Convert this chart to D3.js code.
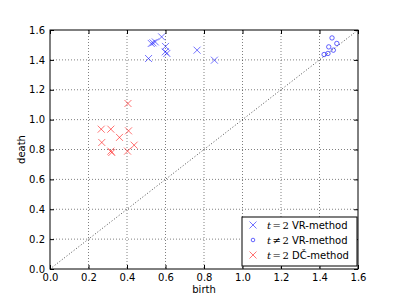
<!DOCTYPE html>
<html>
<head>
    <meta charset="utf-8">
    <script src="https://d3js.org/d3.v7.min.js"></script>
    <style>
        body { margin: 0; background: #fff; }
        text { font-family: "DejaVu Sans", sans-serif; }
    </style>
</head>
<body>
    <script>
        // t = 2 VR-method (crosses)
        var vrBirth = [0.512, 0.526, 0.535, 0.547, 0.58, 0.60, 0.599, 0.607, 0.764, 0.854];
        var vrDeath = [1.409, 1.51, 1.514, 1.52, 1.554, 1.49, 1.454, 1.443, 1.465, 1.398];

        // t != 2 VR-method (circles)
        var vrOtherBirth = [1.424, 1.444, 1.448, 1.465, 1.472, 1.49];
        var vrOtherDeath = [1.436, 1.443, 1.487, 1.547, 1.465, 1.51];

        // t = 2 DC-method (crosses)
        var dcBirth = [0.405, 0.266, 0.316, 0.408, 0.361, 0.269, 0.316, 0.321, 0.403, 0.437];
        var dcDeath = [1.108, 0.936, 0.936, 0.925, 0.881, 0.847, 0.789, 0.78, 0.789, 0.829];

        var ticks = [0.0, 0.2, 0.4, 0.6, 0.8, 1.0, 1.2, 1.4, 1.6];

        var W = 399, H = 299;
        var mLeft = 50, mRight = 358, mTop = 30, mBottom = 269;

        var svg = d3.select("body").append("svg")
            .attr("width", W)
            .attr("height", H);

        var x = d3.scaleLinear().domain([0, 1.6]).range([mLeft, mRight]);
        var y = d3.scaleLinear().domain([0, 1.6]).range([mBottom, mTop]);

        // grid
        var grid = svg.append("g");
        grid.selectAll("line.gx")
            .data(ticks.slice(1, -1))
            .enter().append("line")
            .attr("class", "gx")
            .attr("x1", d => x(d)).attr("x2", d => x(d))
            .attr("y1", mTop).attr("y2", mBottom)
            .style("stroke", "#000").style("stroke-width", 0.5)
            .style("stroke-dasharray", "1,2");
        grid.selectAll("line.gy")
            .data(ticks.slice(1, -1))
            .enter().append("line")
            .attr("class", "gy")
            .attr("y1", d => y(d)).attr("y2", d => y(d))
            .attr("x1", mLeft).attr("x2", mRight)
            .style("stroke", "#000").style("stroke-width", 0.5)
            .style("stroke-dasharray", "1,2");

        // diagonal
        svg.append("line")
            .attr("x1", x(0)).attr("y1", y(0))
            .attr("x2", x(1.6)).attr("y2", y(1.6))
            .style("stroke", "#000").style("stroke-width", 0.7)
            .style("stroke-dasharray", "1,2");

        function crosses(bx, dy, color) {
            var g = svg.append("g");
            var pts = bx.map((b, i) => [b, dy[i]]);
            var s = 3.5;
            g.selectAll("path")
                .data(pts)
                .enter().append("path")
                .attr("d", d => {
                    var px = x(d[0]), py = y(d[1]);
                    return "M" + (px - s) + "," + (py - s) + "L" + (px + s) + "," + (py + s) +
                        "M" + (px - s) + "," + (py + s) + "L" + (px + s) + "," + (py - s);
                })
                .style("stroke", color)
                .style("stroke-opacity", 0.55)
                .style("stroke-width", 1)
                .style("fill", "none");
        }

        crosses(vrBirth, vrDeath, "#0000ff");
        crosses(dcBirth, dcDeath, "#ff0000");

        svg.append("g").selectAll("circle")
            .data(vrOtherBirth.map((b, i) => [b, vrOtherDeath[i]]))
            .enter().append("circle")
            .attr("cx", d => x(d[0]))
            .attr("cy", d => y(d[1]))
            .attr("r", 2.2)
            .style("fill", "none")
            .style("stroke", "#0000ff")
            .style("stroke-opacity", 0.6)
            .style("stroke-width", 1);

        // axes frame
        svg.append("rect")
            .attr("x", mLeft).attr("y", mTop)
            .attr("width", mRight - mLeft).attr("height", mBottom - mTop)
            .style("fill", "none").style("stroke", "#000").style("stroke-width", 1);

        // ticks (inside, matplotlib style)
        var fmt = d3.format(".1f");
        var xAxis = d3.axisBottom(x).tickValues(ticks).tickFormat(fmt).tickSizeInner(-4).tickSizeOuter(0).tickPadding(5);
        var yAxis = d3.axisLeft(y).tickValues(ticks).tickFormat(fmt).tickSizeInner(-4).tickSizeOuter(0).tickPadding(5);
        var xa = svg.append("g").attr("transform", "translate(0," + mBottom + ")").call(xAxis);
        var ya = svg.append("g").attr("transform", "translate(" + mLeft + ",0)").call(yAxis);
        [xa, ya].forEach(a => {
            a.select(".domain").remove();
            a.selectAll("text").style("font-size", "10px").style("fill", "#000")
                .style("font-family", "DejaVu Sans, sans-serif");
            a.selectAll("line").style("stroke", "#000");
        });

        // top / right ticks
        svg.append("g").attr("transform", "translate(0," + mTop + ")")
            .call(d3.axisTop(x).tickValues(ticks).tickFormat("").tickSizeInner(-4).tickSizeOuter(0))
            .call(g => g.select(".domain").remove());
        svg.append("g").attr("transform", "translate(" + mRight + ",0)")
            .call(d3.axisRight(y).tickValues(ticks).tickFormat("").tickSizeInner(-4).tickSizeOuter(0))
            .call(g => g.select(".domain").remove());

        // axis labels
        svg.append("text")
            .attr("x", (mLeft + mRight) / 2).attr("y", 293)
            .attr("text-anchor", "middle")
            .style("font-size", "10px")
            .text("birth");
        svg.append("text")
            .attr("transform", "translate(25," + ((mTop + mBottom) / 2) + ") rotate(-90)")
            .attr("text-anchor", "middle")
            .style("font-size", "10px")
            .text("death");

        // legend
        var legend = svg.append("g");
        legend.append("rect")
            .attr("x", 242).attr("y", 217)
            .attr("width", 115).attr("height", 49)
            .style("fill", "#fff").style("stroke", "#000").style("stroke-width", 1);

        var items = [
            {kind: "x", color: "#0000ff", rel: "=", label: "VR-method"},
            {kind: "o", color: "#0000ff", rel: "\u2260", label: "VR-method"},
            {kind: "x", color: "#ff0000", rel: "=", label: "D\u010C-method"}
        ];
        var rowY = [225, 240, 255];
        items.forEach((it, i) => {
            var cy = rowY[i], cx = 253;
            if (it.kind === "x") {
                var s = 3.5;
                legend.append("path")
                    .attr("d", "M" + (cx - s) + "," + (cy - s) + "L" + (cx + s) + "," + (cy + s) +
                        "M" + (cx - s) + "," + (cy + s) + "L" + (cx + s) + "," + (cy - s))
                    .style("stroke", it.color).style("stroke-opacity", 0.55).style("stroke-width", 1);
            } else {
                legend.append("circle").attr("cx", cx).attr("cy", cy).attr("r", 1.8)
                    .style("fill", "none").style("stroke", it.color).style("stroke-opacity", 0.6);
            }
            var t = legend.append("text")
                .attr("x", 267).attr("y", cy + 3.5)
                .style("font-size", "10px");
            t.append("tspan").text("t")
                .style("font-family", "DejaVu Serif, serif").style("font-style", "italic");
            t.append("tspan").text(it.rel).attr("dx", 1.5)
                .style("font-family", "DejaVu Serif, serif");
            t.append("tspan").text("2").attr("dx", 1.5)
                .style("font-family", "DejaVu Serif, serif");
            t.append("tspan").text(" " + it.label);
        });
    </script>
</body>
</html>
